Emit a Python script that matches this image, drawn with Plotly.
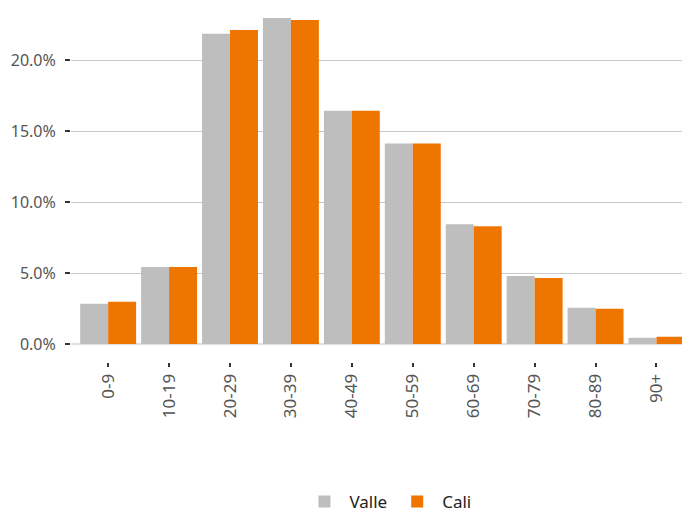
import plotly.graph_objects as go

categories = ["0-9", "10-19", "20-29", "30-39", "40-49", "50-59", "60-69", "70-79", "80-89", "90+"]
valle = [2.83, 5.43, 21.85, 22.97, 16.44, 14.13, 8.44, 4.79, 2.55, 0.44]
cali = [2.97, 5.43, 22.13, 22.83, 16.44, 14.13, 8.30, 4.65, 2.48, 0.51]

font_family = "'Noto Sans', 'Open Sans', sans-serif"

fig = go.Figure()
fig.add_trace(go.Bar(name="Valle", x=categories, y=[v / 100 for v in valle],
                     marker=dict(color="#bebebe", line=dict(width=0))))
fig.add_trace(go.Bar(name="Cali", x=categories, y=[v / 100 for v in cali],
                     marker=dict(color="#ee7600", line=dict(width=0))))

fig.update_layout(
    width=682, height=512,
    margin=dict(l=63, r=0, t=3, b=158),
    paper_bgcolor="white", plot_bgcolor="white",
    barmode="group", bargap=0.082, bargroupgap=0,
    font=dict(family=font_family, color="#555555", size=15),
    showlegend=True,
    legend=dict(orientation="h", x=0.512, xanchor="center", y=-0.40, yanchor="middle",
                font=dict(size=17, color="#222222"), itemwidth=40),
    xaxis=dict(
        range=[-0.61, 9.55], automargin=False,
        anchor="free", position=0,
        tickangle=-90, ticks="outside", ticklen=4, tickwidth=1.5, tickcolor="#333333",
        showgrid=False, showline=False, zeroline=False,
        tickfont=dict(size=17, color="#555555"),
    ),
    yaxis=dict(
        domain=[0.0513, 1],
        range=[0, 0.2346], tickvals=[0, 0.05, 0.10, 0.15, 0.20], tickformat=".1%",
        automargin=False,
        ticks="outside", ticklen=5, tickwidth=2, tickcolor="#333333",
        ticklabelstandoff=6,
        showgrid=True, gridcolor="#c8c8c8", gridwidth=1,
        zeroline=True, zerolinecolor="#e0e0e0", zerolinewidth=2,
        showline=False,
        tickfont=dict(size=16, color="#555555"),
    ),
)

fig.write_html("out.html")
